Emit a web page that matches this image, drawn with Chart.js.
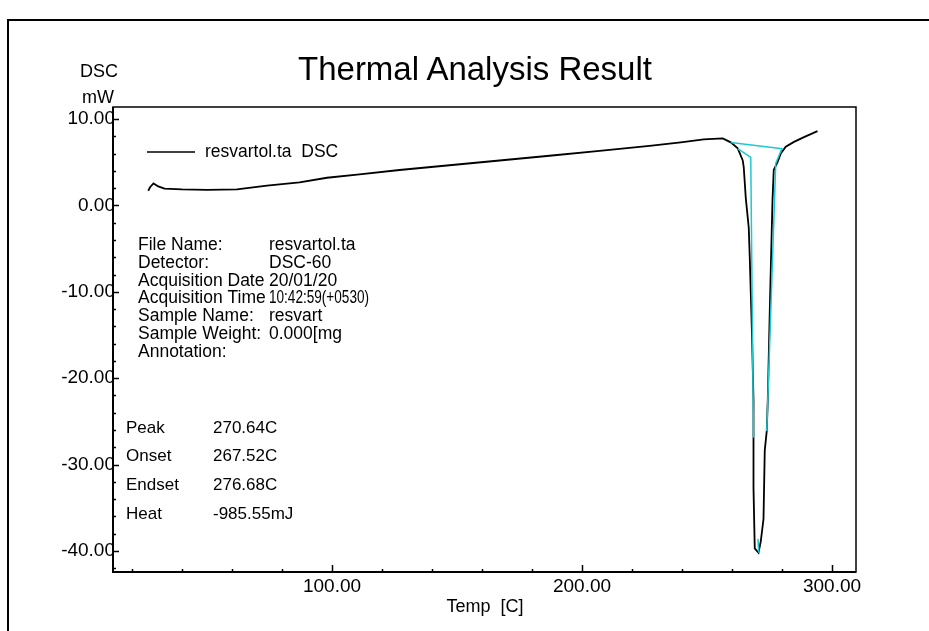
<html>
<head>
  <title>Thermal Analysis Result</title>
  <script src="https://cdn.jsdelivr.net/npm/chart.js"></script>
  <style>
    body { margin: 0; background: white; font-family: "Liberation Sans", Arial, sans-serif; }
    #pagina { position: relative; width: 929px; height: 631px; overflow: hidden; }
    #cornice { position: absolute; left: 7px; top: 19px; width: 940px; height: 640px;
      border-top: 2px solid #000; border-left: 2px solid #000; }
    .testo { position: absolute; color: #000; white-space: nowrap; }
  </style>
</head>
<body>
  <div id="pagina">
    <div id="cornice"></div>
    <canvas id="grafDSC" width="929" height="631"></canvas>
    <div class="testo" style="left:275px; width:400px; top:50px; text-align:center; font-size:33px;">Thermal Analysis Result</div>
    <div class="testo" style="left:80px; top:61px; font-size:18px;">DSC</div>
    <div class="testo" style="left:82px; top:87px; font-size:18px;">mW</div>
    <div class="testo" style="left:425px; width:120px; top:596px; text-align:center; font-size:18px;">Temp&nbsp; [C]</div>
  </div>
  <script>
    // curva DSC (temperatura in C, segnale in mW)
    var dscTemp = [26.5, 27.2, 28.6, 30.5, 33, 40, 50, 62, 74, 87, 98, 111, 127, 147, 167, 187, 207, 227,
      239.5, 248.7, 256.3, 259.5, 262.3, 264.3, 264.7, 265.5, 266.7, 267.1, 268.0, 268.6, 268.6, 269.1,
      270.6, 271.5, 272.6, 273.1, 273.9, 274.3, 275.2, 276.2, 276.7, 278.2, 279.5, 281.5, 284.8, 288.8, 294.2];
    var dscValore = [1.7, 2.1, 2.55, 2.2, 1.95, 1.86, 1.8, 1.86, 2.3, 2.67, 3.2, 3.6, 4.1, 4.65, 5.2, 5.75, 6.3, 6.9,
      7.3, 7.65, 7.75, 7.3, 6.6, 5.2, 4.4, 0.9, -2.6, -6.0, -15, -22.6, -32.7, -39.7,
      -40.2, -38.9, -36.3, -28.4, -26.1, -22.6, -11, 0.6, 4.1, 5.0, 6.0, 6.8, 7.35, 7.9, 8.6];

    // linee di analisi (linea di base, tangenti onset/endset, picco)
    var baseTemp = [259.5, 280.2];
    var baseValore = [7.27, 6.57];
    var onsetTemp = [262.3, 267.5, 268.6];
    var onsetValore = [6.58, 5.55, -26.9];
    var endsetTemp = [280.0, 277.5, 273.9];
    var endsetValore = [6.6, 4.87, -26.1];
    var piccoTemp = [270.4, 270.7];
    var piccoValore = [-38.6, -40.2];

    // tacche degli assi
    var xEtichette = [100, 200, 300];
    var xTacche = [20, 40, 60, 80, 100, 120, 140, 160, 180, 200, 220, 240, 260, 280, 300];
    var yEtichette = [10, 0, -10, -20, -30, -40];
    var yTacche = [10, 8, 6, 4, 2, 0, -2, -4, -6, -8, -10, -12, -14, -16, -18, -20, -22, -24, -26,
      -28, -30, -32, -34, -36, -38, -40, -42];

    // testi informativi (come appaiono, troncati, nell'originale)
    var infoNomi = ["File Name:", "Detector:", "Acquisition Date", "Acquisition Time", "Sample Name:", "Sample Weight:", "Annotation:"];
    var infoValori = ["resvartol.ta", "DSC-60", "20/01/20", "10:42:59(+0530)", "resvart", "0.000[mg", ""];
    var risultatiNomi = ["Peak", "Onset", "Endset", "Heat"];
    var risultatiValori = ["270.64C", "267.52C", "276.68C", "-985.55mJ"];

    var nomeSerie = "resvartol.ta  DSC";
    var ciano = "#1cc8d2";

    function punti(xs, ys) {
      return xs.map(function (x, i) { return { x: x, y: ys[i] }; });
    }

    function serieCiano(xs, ys) {
      return { data: punti(xs, ys), showLine: true, borderColor: ciano, borderWidth: 1.5,
        pointRadius: 0, tension: 0, fill: false, order: 1 };
    }

    var font = "Liberation Sans, Arial, sans-serif";

    //plugin per cornice, tacche interne, legenda e testi
    var decorazioni = {
      id: 'decorazioni',
      afterDraw: function (chart) {
        var ctx = chart.ctx;
        var a = chart.chartArea;
        var sx = chart.scales.x, sy = chart.scales.y;
        ctx.save();
        ctx.strokeStyle = "#000";
        ctx.lineWidth = 1.5;
        ctx.strokeRect(a.left, a.top, a.right - a.left, a.bottom - a.top);
        ctx.lineWidth = 2;
        ctx.beginPath();
        ctx.moveTo(a.left, a.top); ctx.lineTo(a.left, a.bottom); ctx.lineTo(a.right, a.bottom);
        ctx.stroke();

        ctx.lineWidth = 1.5;
        ctx.beginPath();
        xTacche.forEach(function (v) {
          var px = Math.round(sx.getPixelForValue(v)) + 0.5;
          var l = xEtichette.indexOf(v) >= 0 ? 7 : 3;
          ctx.moveTo(px, a.bottom); ctx.lineTo(px, a.bottom - l);
        });
        yTacche.forEach(function (v) {
          var py = Math.round(sy.getPixelForValue(v)) + 0.5;
          var l = yEtichette.indexOf(v) >= 0 ? 6 : 3;
          ctx.moveTo(a.left, py); ctx.lineTo(a.left + l, py);
        });
        ctx.stroke();

        // legenda
        ctx.lineWidth = 1.5;
        ctx.beginPath();
        ctx.moveTo(147, 152); ctx.lineTo(195, 152);
        ctx.stroke();
        ctx.fillStyle = "#000";
        ctx.font = "17.5px " + font;
        ctx.textBaseline = "middle";
        ctx.fillText(chart.data.datasets[0].label, 205, 152);

        // blocco informazioni: i valori lunghi vengono un po' compressi come nell'originale
        ctx.font = "17.5px " + font;
        var larghezzaMax = 100;
        infoNomi.forEach(function (t, i) {
          var y = 245 + i * 17.85;
          ctx.fillText(t, 138, y);
          if (infoValori[i]) ctx.fillText(infoValori[i], 269, y, larghezzaMax);
        });
        ctx.font = "17px " + font;
        risultatiNomi.forEach(function (t, i) {
          var y = 428 + i * 28.7;
          ctx.fillText(t, 126, y);
          ctx.fillText(risultatiValori[i], 213, y);
        });
        ctx.restore();
      }
    };

    new Chart(document.getElementById('grafDSC'), {
      type: 'scatter',
      data: {
        datasets: [
          { label: nomeSerie, data: punti(dscTemp, dscValore), showLine: true, borderColor: '#000',
            borderWidth: 1.8, pointRadius: 0, tension: 0, fill: false, order: 2 },
          serieCiano(baseTemp, baseValore),
          serieCiano(onsetTemp, onsetValore),
          serieCiano(endsetTemp, endsetValore),
          serieCiano(piccoTemp, piccoValore)
        ]
      },
      options: {
        responsive: false,
        animation: false,
        devicePixelRatio: 1,
        layout: { padding: { left: 8, top: 107, right: 73, bottom: 0 } },
        plugins: { legend: { display: false }, tooltip: { enabled: false } },
        scales: {
          x: {
            type: 'linear', min: 12.4, max: 309.6,
            grid: { display: false, drawTicks: false },
            border: { display: false },
            afterBuildTicks: function (s) { s.ticks = xEtichette.map(function (v) { return { value: v }; }); },
            afterFit: function (s) { s.height = 59; },
            ticks: { padding: 3, color: '#000', font: { size: 19, family: font },
              maxRotation: 0, callback: function (v) { return v.toFixed(2); } }
          },
          y: {
            type: 'linear', min: -42.43, max: 11.39,
            grid: { display: false, drawTicks: false },
            border: { display: false },
            afterBuildTicks: function (s) { s.ticks = yEtichette.map(function (v) { return { value: v }; }); },
            afterFit: function (s) { s.width = 105; },
            ticks: { padding: -2, color: '#000', font: { size: 19, family: font },
              callback: function (v) { return v.toFixed(2); } }
          }
        }
      },
      plugins: [decorazioni]
    });
  </script>
</body>
</html>
